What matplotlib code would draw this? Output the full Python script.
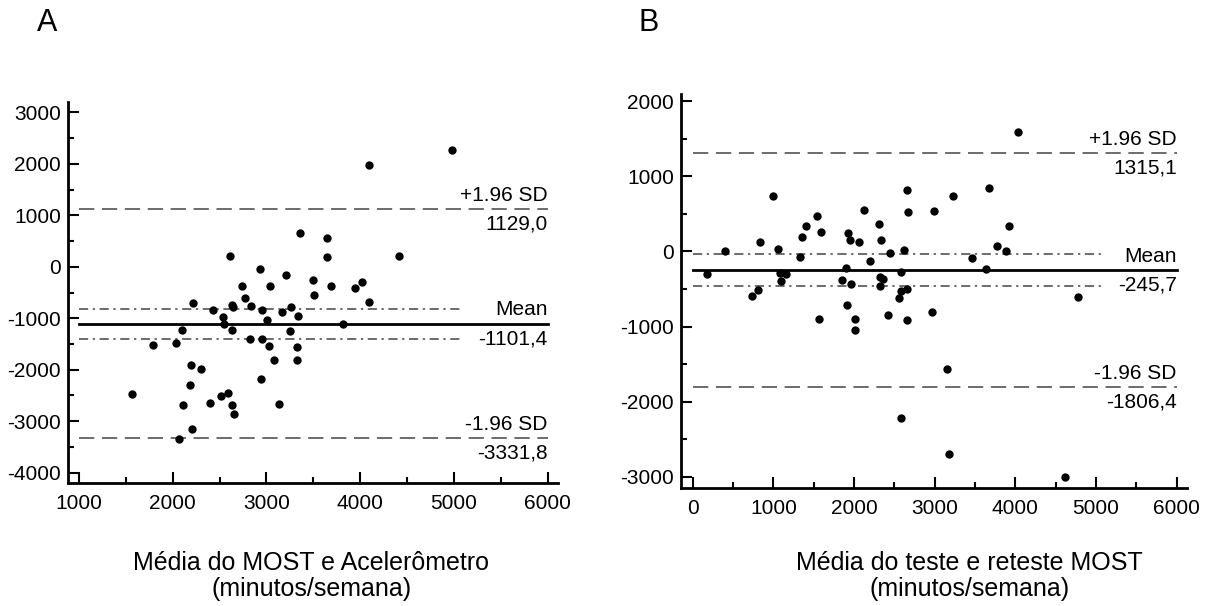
import numpy as np
import matplotlib
matplotlib.use('Agg')
from matplotlib import pyplot as plt
from matplotlib.ticker import MultipleLocator

plt.rcParams['font.family'] = ['Liberation Sans', 'DejaVu Sans']
plt.rcParams['axes.unicode_minus'] = False

# Panel A: MOST vs accelerometer
a_mean_x = [2611, 3359, 3643, 3650, 2932, 2736, 3038, 3205, 3500, 3689,
            3508, 2220, 2630, 2647, 2772, 2836, 2433, 2540, 2551, 2630,
            2950, 3003, 3170, 3263, 3334, 3252, 3323, 3323, 2096, 2035,
            1793, 2825, 2956, 3031, 3084, 2192, 2299, 2946, 1562, 2185,
            2107, 2398, 2512, 2587, 2630, 2654, 3131, 2206, 2070, 4092,
            4981, 4418, 3946, 4020, 4099, 3821]
a_diff_y = [210, 650, 553, 196, -43, -367, -373, -159, -256, -367,
            -548, -697, -742, -787, -612, -755, -839, -981, -1117, -1233,
            -839, -1033, -884, -787, -955, -1252, -1551, -1810, -1233, -1480,
            -1512, -1396, -1408, -1538, -1816, -1907, -1979, -2179, -2470, -2301,
            -2678, -2645, -2509, -2445, -2678, -2864, -2658, -3155, -3344, 1977,
            2268, 210, -405, -295, -683, -1117]
a_mean, a_upper, a_lower = -1101.4, 1129.0, -3331.8
a_ci = [-813, -1408]

# Panel B: test-retest MOST
b_mean_x = [174, 400, 739, 813, 834, 999, 1053, 1082, 1153, 1094,
            1330, 1351, 1401, 1541, 1590, 1929, 1950, 1900, 1851, 1959,
            1909, 2062, 2128, 2194, 2309, 2334, 2322, 2363, 2326, 2446,
            2578, 2623, 2582, 2561, 2660, 2652, 2665, 1570, 2016, 2008,
            2425, 2652, 2582, 4036, 2991, 3231, 3677, 3921, 3768, 3884,
            3459, 3636, 4776, 2963, 3149, 3181, 4611]
b_diff_y = [-300, 7, -594, -509, 121, 744, 28, -287, -296, -398,
            -73, 188, 340, 477, 255, 241, 148, -216, -385, -439,
            -709, 121, 548, -127, 361, 153, -345, -367, -456, -20,
            -273, 15, -532, -616, -496, 815, 527, -905, -896, -1052,
            -843, -909, -2225, 1597, 535, 735, 851, 344, 68, 7,
            -87, -229, -607, -807, -1563, -2692, -2999]
b_mean, b_upper, b_lower = -245.7, 1315.1, -1806.4
b_ci = [-29, -460]


def bland_altman(ax, x, y, mean, upper, lower, ci, x0, fmt_vals):
    ax.scatter(x, y, s=36, color='black', zorder=3, linewidths=0)
    ax.plot([x0, 6000], [upper, upper], color='#444444', lw=1.1,
            dashes=(10, 5))
    ax.plot([x0, 6000], [lower, lower], color='#444444', lw=1.1,
            dashes=(10, 5))
    ax.plot([x0, 6000], [mean, mean], color='black', lw=2)
    for c in ci:
        ax.plot([x0, 5100], [c, c], color='#444444', lw=1.1,
                dashes=(6, 3, 1.5, 3))
    fs = 15
    labels = [('+1.96 SD', upper), ('Mean', mean), ('-1.96 SD', lower)]
    for (lab, val), txt in zip(labels, fmt_vals):
        ax.annotate(lab, xy=(6000, val), xytext=(0, 3),
                    textcoords='offset points', ha='right', va='bottom',
                    fontsize=fs)
        ax.annotate(txt, xy=(6000, val), xytext=(0, -4),
                    textcoords='offset points', ha='right', va='top',
                    fontsize=fs)
    for side in ['top', 'right']:
        ax.spines[side].set_visible(False)
    for side in ['left', 'bottom']:
        ax.spines[side].set_linewidth(2)
    ax.tick_params(which='major', direction='in', length=8, width=1.5,
                   labelsize=15)
    ax.tick_params(which='minor', direction='in', length=4.5, width=1.5)
    ax.tick_params(axis='y', pad=5)
    ax.tick_params(axis='x', pad=8)


fig = plt.figure(figsize=(12.11, 6.06), dpi=100)

axA = fig.add_axes([0.0562, 0.203, 0.4046, 0.629])
bland_altman(axA, a_mean_x, a_diff_y, a_mean, a_upper, a_lower, a_ci, 1000,
             ['1129,0', '-1101,4', '-3331,8'])
axA.set_xlim(883, 6112)
axA.set_ylim(-4200, 3206)
axA.set_xticks(np.arange(1000, 6001, 1000))
axA.set_yticks(np.arange(-4000, 3001, 1000))
axA.xaxis.set_minor_locator(MultipleLocator(500))
axA.yaxis.set_minor_locator(MultipleLocator(500))

axB = fig.add_axes([0.5623, 0.1942, 0.4179, 0.651])
bland_altman(axB, b_mean_x, b_diff_y, b_mean, b_upper, b_lower, b_ci, 0,
             ['1315,1', '-245,7', '-1806,4'])
axB.set_xlim(-145, 6127)
axB.set_ylim(-3155, 2100)
axB.set_xticks(np.arange(0, 6001, 1000))
axB.set_yticks(np.arange(-3000, 2001, 1000))
axB.xaxis.set_minor_locator(MultipleLocator(500))
axB.yaxis.set_minor_locator(MultipleLocator(500))

fig.text(47 / 1211, 1 - 23 / 606, 'A', fontsize=22, ha='center', va='center')
fig.text(649 / 1211, 1 - 23 / 606, 'B', fontsize=22, ha='center', va='center')

fig.text(0.257, 0.05, 'Média do MOST e Acelerômetro\n(minutos/semana)',
         fontsize=18, ha='center', va='center', linespacing=1.1)
fig.text(0.8006, 0.05, 'Média do teste e reteste MOST\n(minutos/semana)',
         fontsize=18, ha='center', va='center', linespacing=1.1)

fig.savefig('out.png', dpi=100)
